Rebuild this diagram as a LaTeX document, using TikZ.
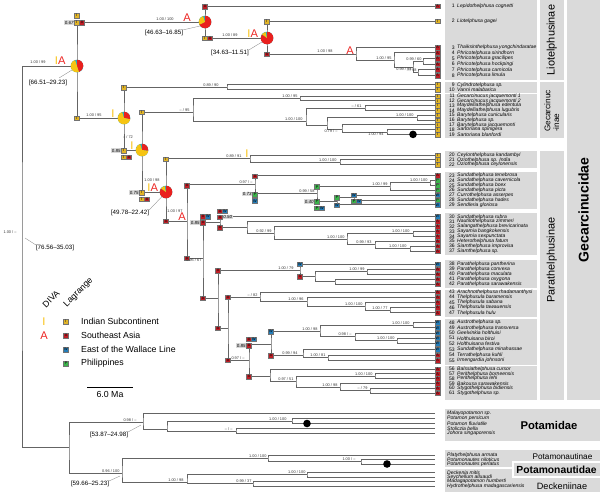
\documentclass[tikz,border=0pt]{standalone}
\usepackage{fontspec}
\setmainfont{Liberation Sans}
\usetikzlibrary{calc}

\definecolor{brgrey}{RGB}{100,100,100}
\definecolor{boxgrey}{RGB}{218,218,218}
\definecolor{cI}{RGB}{225,180,40}
\definecolor{cA}{RGB}{190,30,38}
\definecolor{cW}{RGB}{35,125,185}
\definecolor{cP}{RGB}{60,178,75}
\definecolor{dvI}{RGB}{248,192,15}
\definecolor{dvA}{RGB}{236,38,36}
\definecolor{pieY}{RGB}{246,196,18}
\definecolor{pieR}{RGB}{233,32,30}
\definecolor{pieT}{RGB}{42,172,188}

% ancestral range pie: centre, red share, yellow share (rest teal)
\newcommand\anpie[3]{%
  \begin{scope}[shift={(#1)}, yscale=-1]
    \fill[pieT] (0,0) circle[radius=6.3];
    \fill[pieR] (0,0) -- (90:6.3) arc[start angle=90, delta angle={-3.6*#2}, radius=6.3] -- cycle;
    \fill[pieY] (0,0) -- ({90-3.6*#2}:6.3) arc[start angle={90-3.6*#2}, delta angle={-3.6*#3}, radius=6.3] -- cycle;
  \end{scope}}

\begin{document}
\begin{tikzpicture}[x={(0.03cm,0)}, y={(0,-0.03cm)},
  br/.style={draw=brgrey, line width=0.7pt},
  bsup/.style={font=\fontsize{3.3}{4}\selectfont, inner sep=0.3pt, text=black!80},
  ci/.style={font=\fontsize{5.3}{6}\selectfont, inner sep=0},
  dv/.style={font=\fontsize{9.5}{10}\selectfont, inner sep=0},
  lgb/.style={draw=black!55, line width=0.15pt, minimum width=1.5mm, minimum height=1.4mm,
    inner sep=0, font=\fontsize{3.2}{3.2}\selectfont},
  pp/.style={fill=black!15, font=\fontsize{3.8}{4}\selectfont\itshape, inner sep=0.4pt},
  tx/.style={font=\fontsize{4.3}{4.5}\selectfont\itshape, inner sep=0, anchor=west},
  nb/.style={font=\fontsize{4.3}{4.5}\selectfont, inner sep=0, anchor=east},
  ld/.style={draw=black!45, line width=0.3pt},
  keytx/.style={font=\fontsize{7.5}{8}\selectfont, inner sep=0}]

  \useasboundingbox (0,0) rectangle (600,497);

  % grey panels behind the names and the group labels
  \foreach \ya/\yb in {0/79.5, 81.5/92.5, 93.5/138, 151/168, 171.5/208.5, 212.5/255,
      259.5/288.3, 289.5/316.5, 318.5/364.5, 366/400}
    \fill[boxgrey] (445,\ya) rectangle (537,\yb);
  \fill[boxgrey] (540,0) rectangle (563.5,79.5);
  \fill[boxgrey] (540,81.5) rectangle (563.5,138);
  \fill[boxgrey] (540,151) rectangle (563.5,400);
  \fill[boxgrey] (567,0) rectangle (600,400);
  \fill[boxgrey] (445,409) rectangle (600,441);
  \fill[boxgrey] (445,450) rectangle (600,467);
  \fill[boxgrey] (445,468.5) rectangle (600,492);
  \filldraw[fill=boxgrey, draw=white, line width=1.2pt] (513,462) rectangle (601,477);

  \node[rotate=90, font=\fontsize{9.3}{10}\selectfont] (liot) at (551.8,40) {Liotelphusinae};
  \node[rotate=90, align=left, font=\fontsize{7}{7.5}\selectfont] (gecn) at (551.8,111) {Gecarcinuc\\-inae};
  \node[rotate=90, font=\fontsize{9.3}{10}\selectfont] (para) at (551.8,260) {Parathelphusinae};
  \node[rotate=90, font=\fontsize{12}{13}\selectfont\bfseries] (gecd) at (583.5,210) {Gecarcinucidae};
  \node[font=\fontsize{9.6}{10}\selectfont\bfseries] (potm) at (549,425) {Potamidae};
  \node[font=\fontsize{7}{8}\selectfont] (pnin) at (562.5,456.5) {Potamonautinae};
  \node[font=\fontsize{8.8}{9}\selectfont\bfseries] (pnid) at (556.5,469.5) {Potamonautidae};
  \node[font=\fontsize{7.8}{8}\selectfont] (deck) at (562,486) {Deckeniinae};

  % tips: area box, number and name
  \foreach \i/\y/\ar/\nm in {
    1/6/A/Lepidothelphusa cognetti, 2/21/I/Liotelphusa gagei,
    3/47.3/A/Thaiksinthelphusa yongchindaratae, 4/52.9/A/Phricotelphusa sirindhorn,
    5/58.5/A/Phricotelphusa gracilipes, 6/64.1/A/Phricotelphusa hockpingi,
    7/69.7/A/Phricotelphusa carnicola, 8/75.3/A/Phricotelphusa limula,
    9/84.7/I/Cylindrotelphusa sp., 10/89.5/I/Vanni malabarica,
    11/96/I/Gecarcinucus jacquemonti 1, 12/100.8/I/Gecarcinucus jacquemonti 2,
    13/105.6/I/Maydelliathelphusa edentula, 14/110.4/I/Maydelliathelphusa lugubris,
    15/115.2/I/Barytelphusa cunicularis, 16/120/I/Barytelphusa sp.,
    17/124.8/I/Barytelphusa jacquemonti, 18/129.6/I/Sartoriana spinigera,
    19/134.4/I/Sartoriana blanfordi, 20/155/I/Ceylonthelphusa kandambyi,
    21/159.8/I/Oziothelphusa sp. India, 22/164.6/I/Oziothelphusa ceylonensis,
    23/175.5/A/Sundathelphusa tenebrosa, 24/180.4/P/Sundathelphusa cavernicola,
    25/185.3/P/Sundathelphusa boex, 26/190.2/P/Sundathelphusa picta,
    27/195.1/W/Currothelphusa asserpes, 28/200/P/Sundathelphusa hades,
    29/204.9/W/Sendleria gloriosa, 30/216.7/W/Sundathelphusa rubra,
    31/221.6/A/Nautilothelphusa zimmeri, 32/226.5/A/Salangathelphusa brevicarinata,
    33/231.4/A/Sayamia bangkokensis, 34/236.3/A/Sayamia sexpunctata,
    35/241.2/A/Heterothelphusa fatum, 36/246.1/A/Siamthelphusa improvisa,
    37/251/A/Siamthelphusa sp., 38/264/W/Parathelphusa pantherina,
    39/269/A/Parathelphusa convexa, 40/274/A/Parathelphusa maculata,
    41/279/A/Parathelphusa oxygona, 42/284/A/Parathelphusa sarawakensis,
    43/292/A/Arachnothelphusa rhadamanthysi, 44/297.2/A/Thelphusula baramensis,
    45/302.4/A/Thelphusula sabana, 46/307.6/A/Thelphusula tawauensis,
    47/312.8/A/Thelphusula hulu, 48/322.5/W/Austrothelphusa sp.,
    49/327.8/W/Austrothelphusa transversa, 50/333/W/Geelvinkia holthuisi,
    51/338.2/W/Holthuisana biroi, 52/343.4/W/Holthuisana festiva,
    53/349.5/W/Sundathelphusa minahassae, 54/355/A/Terrathelphusa kuhli,
    55/360.3/A/Irmengardia johnsoni, 56/369/A/Balssiathelphusa cursor,
    57/373.8/A/Perithelphusa borneensis, 58/378.6/A/Perithelphusa lehi,
    59/383.4/A/Bakousa sarawakensis, 60/388.2/A/Stygothelphusa bidiensis,
    61/393/A/Stygothelphusa sp.}{
    \coordinate (t\i) at (434.5,\y);
    \node[lgb, fill=c\ar] (lf\i) at (437.5,\y) {\ar};
    \node[nb] (nb\i) at (455,\y) {\i};
    \node[tx] (tx\i) at (457,\y) {\nm};
  }
  \foreach \i/\y/\nm in {1/413.5/Malayopotamon sp., 2/418.5/Potamon persicum,
    3/423.5/Potamon fluviatile, 4/428.5/Stoliczia bella, 5/433.5/Johora singaporensis,
    6/455/Platythelphusa armata, 7/459.5/Potamonautes niloticus,
    8/464/Potamonautes perlatus, 9/472.3/Deckenia mitis, 10/477/Seychellum alluaudi,
    11/481.5/Madagapotamon humberti, 12/486/Hydrothelphusa madagascariensis}{
    \coordinate (o\i) at (434.5,\y);
    \node[tx] (ox\i) at (447,\y) {\nm};
  }

  % internal nodes
  \coordinate (rt) at (22,256);
  \coordinate (n1) at (77,66);    \coordinate (n2) at (205,22);   \coordinate (n3) at (267,38);
  \coordinate (n4) at (356,54);   \coordinate (n5) at (394,60);   \coordinate (n6) at (413,67);
  \coordinate (n7) at (423,61.3); \coordinate (n8) at (418,72.5); \coordinate (n9) at (124,118);
  \coordinate (g0) at (142,150);  \coordinate (g1) at (227,87.1); \coordinate (g2) at (193,112);
  \coordinate (g3) at (300,98.4); \coordinate (g4) at (306,121);  \coordinate (g5) at (365,108);
  \coordinate (g6) at (327,125);  \coordinate (g7) at (417,117.6);\coordinate (g8) at (342,129);
  \coordinate (g9) at (387,132);
  \coordinate (p0) at (166,192);  \coordinate (p1) at (250,158.6);\coordinate (p2) at (340,162.2);
  \coordinate (p4) at (187,221);  \coordinate (p5) at (255,184.7);\coordinate (p6) at (317,193.85);
  \coordinate (p7) at (390,186.5);\coordinate (p8) at (430,182.85);\coordinate (p9) at (337,201.2);
  \coordinate (p10) at (354,197.55);\coordinate (p12) at (220,222);\coordinate (p13) at (203,258);
  \coordinate (p14) at (218,298);
  \coordinate (q1) at (247,227.3); \coordinate (q2) at (274,232.95);\coordinate (q3) at (413,233.85);
  \coordinate (q4) at (347,239.4); \coordinate (q5) at (375,244.9); \coordinate (q6) at (410,248.55);
  \coordinate (r2) at (300,270);   \coordinate (r3) at (315,276.5); \coordinate (r4) at (367,271.5);
  \coordinate (r5) at (335,281.5);
  \coordinate (w1) at (228,328);   \coordinate (w2) at (249,360);
  \coordinate (s1) at (260,297);   \coordinate (s2) at (307,301.75);\coordinate (s3) at (365,306.3);
  \coordinate (s4) at (390,310.2);
  \coordinate (u1) at (271,344);   \coordinate (u2) at (320,331);   \coordinate (u3) at (413,325.15);
  \coordinate (u4) at (355,336.9); \coordinate (u5) at (397,340.8); \coordinate (u6) at (303,355.5);
  \coordinate (u7) at (328,357.65);
  \coordinate (v1) at (270,376);   \coordinate (v2) at (296,381.6); \coordinate (v3) at (375,376.2);
  \coordinate (v4) at (340,387);   \coordinate (v5) at (370,390.6);
  \coordinate (o0) at (69,447);    \coordinate (a1) at (143,422);   \coordinate (a2) at (167,429);
  \coordinate (a3) at (292,421);   \coordinate (a4) at (236,431);
  \coordinate (b1) at (122,473);   \coordinate (b2) at (268,458.4); \coordinate (b3) at (361,461.75);
  \coordinate (b4) at (187,482);   \coordinate (b5) at (307,474.65);\coordinate (b6) at (253,483.75);

  % branches: upper child / node / lower child
  \foreach \a/\n/\b in {
    t1/n2/n3, t2/n3/n4, t3/n4/n5, t4/n5/n6, n7/n6/n8, t5/n7/t6, t7/n8/t8,
    n2/n1/n9, g1/n9/g0, t9/g1/t10, g2/g0/p0, g3/g2/g4, t11/g3/t12, g5/g4/g6,
    t13/g5/t14, g7/g6/g8, t15/g7/t16, t17/g8/g9, t18/g9/t19,
    p1/p0/p4, t20/p1/p2, t21/p2/t22, p5/p4/p13, t23/p5/p6, p7/p6/p9, p8/p7/t26,
    t24/p8/t25, p10/p9/t29, t27/p10/t28,
    p12/p13/p14, t30/p12/q1, t31/q1/q2, t32/q2/q4, q3/q4/q5, t33/q3/t34,
    t35/q5/q6, t36/q6/t37,
    r2/p14/w1, t38/r2/r3, r4/r3/r5, t39/r4/t40, t41/r5/t42,
    s1/w1/w2, t43/s1/s2, t44/s2/s3, t45/s3/s4, t46/s4/t47,
    u1/w2/v1, u2/u1/u6, u3/u2/u4, t48/u3/t49, t50/u4/u5, t51/u5/t52,
    t53/u6/u7, t54/u7/t55,
    t56/v1/v2, v3/v2/v4, t57/v3/t58, t59/v4/v5, t60/v5/t61,
    n1/rt/o0, a1/o0/b1, o1/a1/a2, a3/a2/a4, o2/a3/o3, o4/a4/o5,
    b2/b1/b4, o6/b2/b3, o7/b3/o8, b5/b4/b6, o9/b5/o10, o11/b6/o12}
    \draw[br] (\a) -| (\n) |- (\b);

  % fossil calibration points
  \fill (413,134.4) circle[radius=3.8];
  \fill (307,423.5) circle[radius=3.8];
  \fill (387,464) circle[radius=3.8];

  % Lagrange ranges at the nodes
  \foreach \x/\y/\ar [count=\k] in {
    77/15.5/I, 77/22.5/I, 82/22.5/A, 77/118/I,
    205/6.5/A, 205/38/I, 210/38/A, 267/21.5/I, 267/54/A,
    124/87.5/I, 124/150.5/I, 124/157/I, 129/157/A,
    142/112/I, 142/192.5/I, 142/199/I, 147/199/A,
    166/159/I, 166/221/A, 187/185.5/A, 187/258/A,
    203/216.5/A, 208/216.5/W, 203/222.5/A, 203/298/A,
    220/211/A, 225/211/W, 220/217/A, 220/227.5/A,
    255/176/A, 255/194.3/P, 255/200.8/W,
    317/186.8/P, 317/201.5/P, 317/208/P, 322/208/W,
    337/197.6/P, 337/205/W, 354/195.1/W, 354/201/P, 359/201/W,
    300/264/W, 300/276.5/A, 218/270.5/A, 218/328/A,
    228/297/A, 228/360/A,
    249/339/A, 254/339/W, 249/345.5/A, 249/376.5/A,
    271/331.5/W, 271/355.5/A}
    \node[lgb, fill=c\ar] (lg\k) at (\x,\y) {\ar};
  \foreach \x/\y/\pv/\side [count=\k] in {74.3/22.5/0.67/east, 121.3/150.5/0.85/east,
    139.3/192.5/0.75/east, 200.3/222.5/0.85/east, 222.7/217/0.50/west,
    252.3/194.3/0.73/east, 314.3/201.5/0.40/east, 246.3/345.5/0.85/east}
    \node[pp, anchor=\side] (pp\k) at (\x,\y) {\pv};

  % pies
  \anpie{n1}{45}{50}
  \anpie{n2}{68}{27}
  \anpie{n3}{85}{11}
  \anpie{n9}{28}{67}
  \anpie{g0}{27}{68}
  \anpie{p0}{85}{11}

  % DIVA reconstructions
  \node[dv, text=dvI] (dv1) at (56.5,61) {I};
  \node[dv, text=dvA] (dv2) at (61.8,61) {A};
  \node[dv, text=dvA] (dv3) at (187,18) {A};
  \node[dv, text=dvI] (dv4) at (249,34) {I};
  \node[dv, text=dvA] (dv5) at (254.3,34) {A};
  \node[dv, text=dvA] (dv6) at (350,50.5) {A};
  \node[dv, text=dvI] (dv7) at (113,114) {I};
  \node[dv, text=dvI] (dv8) at (132,146) {I};
  \node[dv, text=dvI] (dv9) at (247,154) {I};
  \node[dv, text=dvI] (dv10) at (149,187.5) {I};
  \node[dv, text=dvA] (dv11) at (154.3,187.5) {A};
  \node[dv, text=dvA] (dv12) at (182,216.5) {A};

  % posterior / bootstrap support
  \foreach \n/\dx/\pra/\prb in {
    n5/-2/1.00/95, n7/-1/0.99/60, n8/-1/--/98, g1/-8/0.89/90, g2/-3/--/95,
    g3/-2/1.00/95, g4/-3/1.00/100, g5/-3/--/61, g7/-3/1.00/100,
    p1/-8/0.89/91, p2/-3/1.00/100, p5/-2/0.97/--, p6/-2/0.99/58, p7/-2/1.00/99,
    p8/-2/1.00/100, q2/-2/0.92/99, q3/-3/1.00/100, q4/-2/1.00/100,
    q5/-3/0.99/93, q6/-3/1.00/100, r2/-6/1.00/79, r4/-2/1.00/99,
    s1/-2/--/82, s2/-3/1.00/96, s3/-2/1.00/100, s4/-2/1.00/77, w2/-4/0.97/--,
    u2/-2/1.00/98, u3/-3/1.00/100, u4/-3/0.98/--, u5/-2/1.00/100,
    u6/-5/0.99/94, u7/-2/1.00/81, v2/-2/0.97/51, v3/-2/1.00/100,
    v4/-2/1.00/98, v5/-2/--/79,
    a1/-6/0.98/--, a3/-5/1.00/100, a4/-3/--/--, b1/-2/0.96/100,
    b2/-1/1.00/100, b3/-5/1.00/--, b4/-3/1.00/98, b5/-1/1.00/100, b6/-1/0.99/37}
    \node[bsup, anchor=south east] (s\n) at ($(\n)+(\dx,-0.3)$) {\pra{} / \prb};
  \foreach \n/\dx/\pra/\prb in {n6/-1/0.99/98, g8/-4/0.79/--, g9/-3/1.00/94, p13/-1/0.95/67}
    \node[bsup, anchor=north east] (s\n) at ($(\n)+(\dx,0.3)$) {\pra{} / \prb};
  \node[bsup] (srt) at (10,232) {1.00 / --};
  \node[bsup] (sn1) at (38,62.5) {1.00 / 99};
  \node[bsup] (sn2) at (165,19) {1.00 / 100};
  \node[bsup] (sn3) at (230,35.5) {1.00 / 89};
  \node[bsup] (sn4) at (325,51.5) {1.00 / 98};
  \node[bsup] (sn9) at (94,115.5) {1.00 / 95};
  \node[bsup] (sg0) at (128,137) {-- / 72};
  \node[bsup] (sp0) at (152,180) {1.00 / 98};
  \node[bsup] (sp4) at (175,211) {1.00 / 97};

  % age intervals
  \node[ci] (ci1) at (48,83) {[66.51--29.23]};
  \node[ci] (ci2) at (164,33) {[46.63--16.85]};
  \node[ci] (ci3) at (230,53) {[34.63--11.51]};
  \node[ci] (ci4) at (130,213) {[49.78--22.42]};
  \node[ci] (ci5) at (55,248) {[76.56--35.03]};
  \node[ci] (ci6) at (109,435) {[53.87--24.98]};
  \node[ci] (ci7) at (90,484) {[59.66--25.23]};
  \draw[ld] ($(n1)+(-5,4)$) -- ($(ci1.north east)+(-8,-2)$);
  \draw[ld] ($(n2)+(-5,4)$) -- (ci2.north east);
  \draw[ld] ($(n3)+(-5,4)$) -- (ci3.north east);
  \draw[ld] ($(p0)+(-4,4.5)$) -- (ci4.north east);
  \draw[ld] ($(rt)+(3,-18)$) -- (ci5.north west);
  \draw[ld] ($(a1)+(-2,3)$) -- (ci6.north east);
  \draw[ld] ($(b1)+(-2,3)$) -- (ci7.north east);

  % legend
  \node[keytx, rotate=45] (hdiva) at (51,299) {DIVA};
  \node[keytx, rotate=45] (hlag) at (78.5,292.5) {Lagrange};
  \node[dv, text=dvI] (keyI) at (44,321.5) {I};
  \node[dv, text=dvA] (keyA) at (44,335.5) {A};
  \foreach \k/\y/\ar/\lab in {1/321.5/I/Indian Subcontinent, 2/335.5/A/Southeast Asia,
      3/349.3/W/East of the Wallace Line, 4/363.3/P/Philippines}{
    \node[lgb, fill=c\ar] (key\k) at (66,\y) {\ar};
    \node[keytx, anchor=west] (keytx\k) at (81,\y) {\lab};
  }
  \coordinate (sb1) at (87,387);
  \coordinate (sb2) at (133,387);
  \draw[line width=0.6pt] (sb1) -- (sb2);
  \node[keytx] (sbl) at (110,394.5) {6.0 Ma};

\end{tikzpicture}
\end{document}
